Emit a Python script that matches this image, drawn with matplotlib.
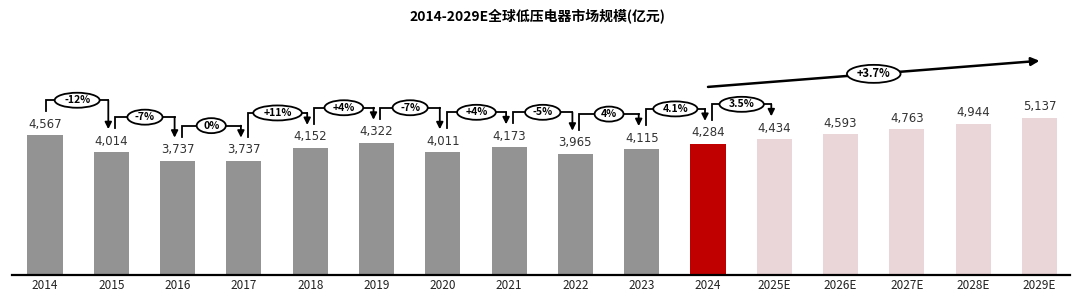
import numpy as np
from matplotlib import pyplot as plt
from matplotlib.patches import Ellipse

plt.rcParams['font.family'] = ['Noto Sans CJK SC', 'DejaVu Sans']

########
# DATA #
########

years = ['2014', '2015', '2016', '2017', '2018', '2019', '2020', '2021',
         '2022', '2023', '2024', '2025E', '2026E', '2027E', '2028E', '2029E']
market = [4567, 4014, 3737, 3737, 4152, 4322, 4011, 4173,
          3965, 4115, 4284, 4434, 4593, 4763, 4944, 5137]
growth = ['-12%', '-7%', '0%', '+11%', '+4%', '-7%', '+4%', '-5%',
          '4%', '4.1%', '3.5%']
cagr = '+3.7%'
title = '2014-2029E全球低压电器市场规模(亿元)'

# colours: history grey, current year red, forecast pink
grey, red, pink = '#939393', '#c00000', '#ead6d9'
colors = [grey] * 10 + [red] + [pink] * 5

########
# PLOT #
########

W, H = 1080, 296
fig = plt.figure(figsize=(W / 100, H / 100), dpi=100)

# axes placed in pixels: left 12, right 1070, baseline at y=275
ax = fig.add_axes([12 / W, (H - 275) / H, (1070 - 12) / W, 275 / H])
x = np.arange(len(years))
xpx = 66.3               # pixels per category
ypx = 0.0306             # pixels per unit of value
ax.set_xlim(-(45 - 12) / xpx, (1070 - 45) / xpx)
ax.set_ylim(0, 275 / ypx)

def dx(p):
    return p / xpx

def dy(p):
    return p / ypx

ax.bar(x, market, width=0.53, color=colors, zorder=2)

for s in ['top', 'right', 'left']:
    ax.spines[s].set_visible(False)
ax.spines['bottom'].set_linewidth(1.6)
ax.set_yticks([])
ax.set_xticks(x, years, fontsize=8.5, color='#222222')
ax.tick_params(axis='x', length=0, pad=3)

# value labels
for xi, v in zip(x, market):
    ax.text(xi, v + dy(11), '{:,}'.format(v), ha='center', va='center',
            fontsize=8.5, color='#333333', family='DejaVu Sans')

fig.canvas.draw()
renderer = fig.canvas.get_renderer()

def bubble(cx, cy, label, h=15, fs=7.5, k=1.6):
    t = ax.text(cx, cy, label, ha='center', va='center', fontsize=fs,
                fontweight='bold', zorder=6)
    tw = t.get_window_extent(renderer).width
    ax.add_patch(Ellipse((cx, cy), dx(k * tw + 3), dy(h),
                         facecolor='white', edgecolor='black', lw=1.3,
                         zorder=5))

# year-over-year brackets
for i, g in enumerate(growth):
    v0, v1 = market[i], market[i + 1]
    level = max(v0, v1) + dy(35)
    xl = x[i] + dx(4 if i else 1)
    xr = x[i + 1] - dx(3)
    ax.plot([xl, xl, xr], [v0 + dy(24), level, level], color='black',
            lw=1.3, zorder=4, solid_joinstyle='miter')
    ax.annotate('', xy=(xr, v1 + dy(23)), xytext=(xr, level),
                arrowprops=dict(arrowstyle='-|>', color='black', lw=1.3,
                                mutation_scale=10, shrinkA=0, shrinkB=0),
                zorder=4)
    bubble((xl + xr) / 2, level, g)

# CAGR arrow over the forecast
y0 = market[10] + dy(57)
y1 = market[15] + dy(57)
ax.annotate('', xy=(x[15], y1), xytext=(x[10], y0),
            arrowprops=dict(arrowstyle='-|>', color='black', lw=1.8,
                            mutation_scale=12, shrinkA=0, shrinkB=0),
            zorder=4)
bubble((x[10] + x[15]) / 2, (y0 + y1) / 2, cagr, h=18, fs=8, k=1.5)

fig.text(537 / W, 1 - 16 / H, title, ha='center', va='center',
         fontsize=10, fontweight='bold')

plt.savefig('out.png', dpi=100)
plt.close()
